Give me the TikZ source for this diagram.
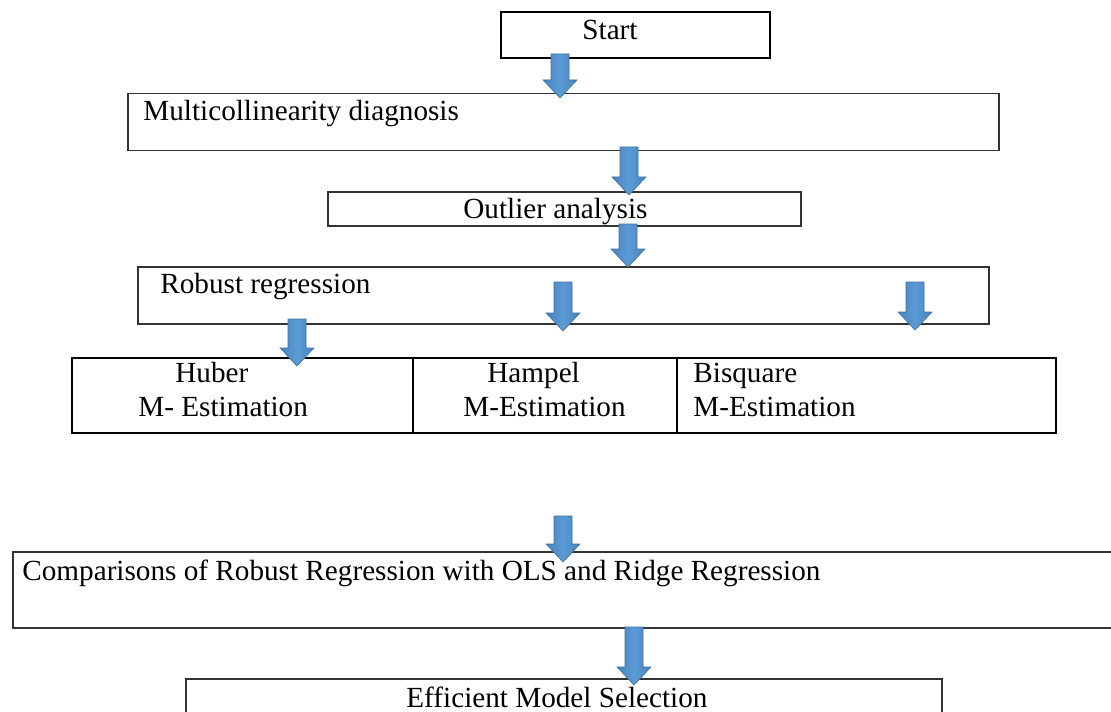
\documentclass[tikz,border=0pt]{standalone}
\usepackage{fontspec}
\setmainfont{Liberation Serif}
\definecolor{arrowblue}{HTML}{5B9BD5}
\definecolor{arrowdark}{HTML}{4A82BE}
\definecolor{arrowedge}{HTML}{41719C}
\definecolor{boxgray}{HTML}{333333}
\tikzset{
  box/.style={draw=boxgray, line width=0.75pt, rectangle, inner sep=0pt, anchor=north west},
  rowbox/.style={draw=black, line width=1.2pt, rectangle, inner sep=0pt, anchor=north west},
  txt/.style={anchor=base west, inner sep=0pt, font=\fontsize{14.6}{17.5}\selectfont},
  pics/barrow/.style={code={
    \path[draw=arrowedge, line width=0.3pt, left color=arrowdark, right color=arrowdark, middle color=arrowblue]
      (-9,0) -- (9,0) -- (9,#1-18) -- (17,#1-18) -- (0,#1) -- (-17,#1-18) -- (-9,#1-18) -- cycle;
  }}
}
\begin{document}
\begin{tikzpicture}[x=0.5pt,y=-0.5pt]
\useasboundingbox (0,0) rectangle (1111,711);
\clip (0,0) rectangle (1111,711);
\fill[white] (0,0) rectangle (1111,711);

% boxes
\node[box, line width=0.9pt, draw=black, minimum width=134.5pt, minimum height=23pt] (start) at (500,11) {};
\node[box, minimum width=435.5pt, minimum height=28.5pt] (multi) at (127,93) {};
\node[box, minimum width=236.5pt, minimum height=17pt] (outlier) at (327,191) {};
\node[box, minimum width=425.5pt, minimum height=28.5pt] (robust) at (137,266) {};
\node[rowbox, minimum width=170.5pt, minimum height=37.5pt] (huber) at (71,357) {};
\node[rowbox, minimum width=132pt, minimum height=37.5pt] (hampel) at (412,357) {};
\node[rowbox, minimum width=189.5pt, minimum height=37.5pt] (bisq) at (676,357) {};
\node[box, minimum width=560pt, minimum height=38pt] (comp) at (12,551) {};
\node[box, minimum width=378pt, minimum height=31pt] (eff) at (185,678) {};

% texts
\node[txt] (tstart) at (582,40) {Start};
\node[txt] (tmulti) at (143,121) {Multicollinearity diagnosis};
\node[txt] (toutlier) at (463,218) {Outlier analysis};
\node[txt] (trobust) at (160,293) {Robust regression};
\node[txt] (thuber1) at (175,382) {Huber};
\node[txt] (thuber2) at (138,416) {M- Estimation};
\node[txt] (thampel1) at (487,382) {Hampel};
\node[txt] (thampel2) at (463,416) {M-Estimation};
\node[txt] (tbisq1) at (693,382) {Bisquare};
\node[txt] (tbisq2) at (693,416) {M-Estimation};
\node[txt] (tcomp) at (22,580) {Comparisons of Robust Regression with OLS and Ridge Regression};
\node[txt] (teff) at (406,707) {Efficient Model Selection};

% block arrows
\pic (a1) at (560,54) {barrow=44};
\pic (a2) at (629,147) {barrow=48};
\pic (a3) at (628,224) {barrow=43};
\pic (a4) at (563,282) {barrow=49};
\pic (a5) at (915,282) {barrow=48};
\pic (a6) at (297,319) {barrow=47};
\pic (a7) at (563,516) {barrow=46};
\pic (a8) at (634,627) {barrow=58};
\end{tikzpicture}
\end{document}
